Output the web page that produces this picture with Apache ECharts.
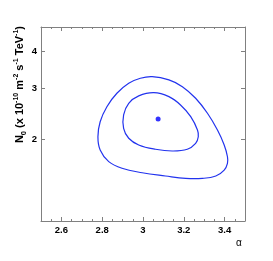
<!DOCTYPE html>
<html><head><meta charset="utf-8">
<script src="https://cdn.jsdelivr.net/npm/echarts@6/dist/echarts.min.js"></script>
<style>html,body{margin:0;padding:0;background:#fff}#c{width:273px;height:261px}</style>
</head><body><div id="c"></div>
<script>
// Data
var xMajor = [2.6, 2.8, 3.0, 3.2, 3.4];
var xMinor = [2.55, 2.65, 2.7, 2.75, 2.85, 2.9, 2.95, 3.05, 3.1, 3.15, 3.25, 3.3, 3.35, 3.45];
var yTicks = [2, 3, 4];
var xRange = [2.5, 3.5];
var yRange = [1.048, 4.86];

// outer contour (closed loop, clockwise from top)
var outerAlpha = [3.045, 3.127, 3.193, 3.258, 3.316, 3.365, 3.398, 3.414, 3.414, 3.398, 3.357, 3.291, 3.209, 3.110, 2.996, 2.897, 2.832, 2.790, 2.779, 2.790, 2.823, 2.872, 2.930, 2.987];
var outerN0 =    [3.282, 3.198, 3.032, 2.766, 2.457, 2.152, 1.912, 1.742, 1.654, 1.568, 1.496, 1.468, 1.468, 1.496, 1.535, 1.590, 1.676, 1.838, 2.041, 2.298, 2.588, 2.878, 3.114, 3.240];

// inner contour (closed loop, clockwise from top)
var innerAlpha = [3.053, 3.127, 3.184, 3.234, 3.267, 3.271, 3.258, 3.217, 3.143, 3.061, 2.979, 2.930, 2.905, 2.905, 2.930, 2.979];
var innerN0 =    [2.892, 2.802, 2.624, 2.392, 2.152, 2.041, 1.937, 1.848, 1.823, 1.848, 1.912, 2.016, 2.182, 2.424, 2.658, 2.818];

var bestAlpha = [3.074];
var bestN0 = [2.348];

function lg(v){ return Math.log10(v); }
var contours = [[outerAlpha, outerN0], [innerAlpha, innerN0]];

var axisGray = '#808080';
var labelFont = {color:'#000', fontFamily:'Liberation Sans', fontWeight:'bold', fontSize:9.5};

function xAx(pos, ticks, len, showLine, showLabel){
  return {
    type:'value', position:pos, min:xRange[0], max:xRange[1],
    axisLine:{show:showLine, lineStyle:{color:axisGray, width:1}},
    axisTick:{show:true, inside:true, length:len, customValues:ticks, lineStyle:{color:axisGray}},
    axisLabel:{show:showLabel, customValues:ticks, margin:4, formatter:function(v){return String(+v.toFixed(2));}, ...labelFont},
    splitLine:{show:false}
  };
}
function yAx(pos, showLabel){
  var tv = yTicks.map(lg);
  return {
    type:'value', position:pos, min:lg(yRange[0]), max:lg(yRange[1]),
    axisLine:{show:true, lineStyle:{color:axisGray, width:1}},
    axisTick:{show:true, inside:true, length:4, customValues:tv, lineStyle:{color:axisGray}},
    axisLabel:{show:showLabel, customValues:tv, margin:4, formatter:function(v){return String(Math.round(Math.pow(10,v)));}, ...labelFont},
    splitLine:{show:false}
  };
}

var chart = echarts.init(document.getElementById('c'), null, {renderer:'canvas'});
chart.setOption({
  animation:false,
  backgroundColor:'#fff',
  grid:{left:41, top:27, right:28, bottom:40, containLabel:false},
  xAxis:[
    Object.assign(xAx('bottom', xMajor, 4, true, true), {name:'α', nameLocation:'end', nameGap:-6,
      nameTextStyle:{fontFamily:'Liberation Sans', fontSize:10, color:'#000', align:'center', verticalAlign:'top', padding:[17,0,0,0]}}),
    xAx('bottom', xMinor, 2, false, false),
    xAx('top', xMajor, 4, true, false),
    xAx('top', xMinor, 2, false, false)
  ],
  yAxis:[ yAx('left', true), yAx('right', false) ],
  graphic:[{
    type:'text', x:20, y:26, rotation:Math.PI/2,
    style:{
      text:'{b|N}{sb|0}{b| (x 10}{sp|-10}{b| m}{sp|-2}{b| s}{sp|-1}{b| TeV}{sp|-1}{b|)}',
      align:'right', verticalAlign:'middle',
      rich:{
        b:{fontFamily:'Liberation Sans', fontWeight:'bold', fontSize:11, color:'#000', lineHeight:15, verticalAlign:'middle'},
        sp:{fontFamily:'Liberation Sans', fontWeight:'bold', fontSize:7, color:'#000', lineHeight:15, verticalAlign:'top'},
        sb:{fontFamily:'Liberation Sans', fontWeight:'bold', fontSize:7.5, color:'#000', lineHeight:15, verticalAlign:'bottom'}
      }
    }
  }],
  series:[
    {type:'custom', xAxisIndex:0, yAxisIndex:0, silent:true,
     data: contours.map(function(c){ return [c[0][0], lg(c[1][0])]; }),
     renderItem:function(params, api){
       var c = contours[params.dataIndex];
       var pts = c[0].map(function(a,i){ return api.coord([a, lg(c[1][i])]); });
       return {type:'polygon', shape:{points:pts, smooth:0.4},
               style:{fill:null, stroke:'#2233ee', lineWidth:1.2}};
     }},
    {type:'scatter', xAxisIndex:0, yAxisIndex:0, data:bestAlpha.map(function(a,i){return [a, lg(bestN0[i])];}),
     symbol:'circle', symbolSize:5, itemStyle:{color:'#0000ff'}}
  ]
});
</script></body></html>
